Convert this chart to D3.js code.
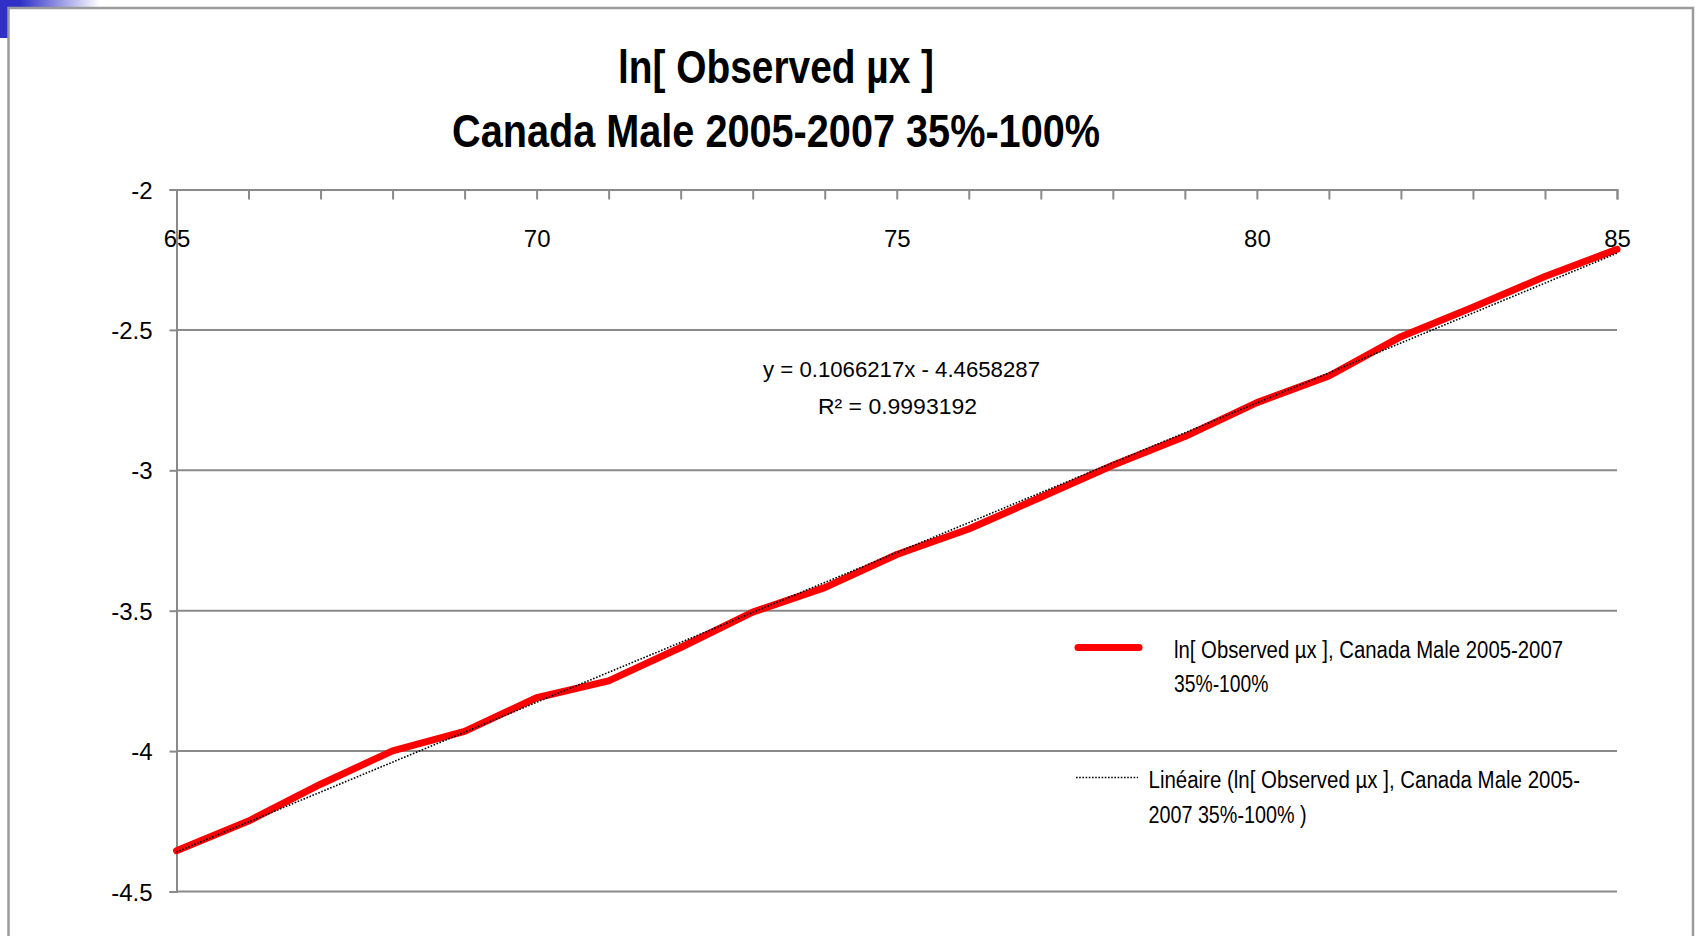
<!DOCTYPE html>
<html><head><meta charset="utf-8">
<script src="https://cdn.jsdelivr.net/npm/d3@7"></script>
<style>
html,body{margin:0;padding:0;background:#fff;overflow:hidden}
svg{display:block}
text{font-family:"Liberation Sans Narrow","Liberation Sans",Arial,sans-serif;fill:#000}
</style></head><body>
<svg id="chart" width="1699" height="936"></svg>
<script>
// Ages (x categories) and the observed log mortality rates
const ages = [65,66,67,68,69,70,71,72,73,74,75,76,77,78,79,80,81,82,83,84,85];
const lnObservedMu = [-4.355,-4.249,-4.118,-3.999,-3.930,-3.810,-3.750,-3.631,-3.505,-3.418,
                      -3.300,-3.209,-3.096,-2.982,-2.880,-2.759,-2.664,-2.524,-2.419,-2.310,-2.213];
// Axis tick labels
const xTickLabels = [65,70,75,80,85];
const yTickValues = [-2,-2.5,-3,-3.5,-4,-4.5];
// Linear trend (x is the point index 1..n)
const trendSlope = 0.1066217;
const trendIntercept = -4.4658287;
const trendR2 = 0.9993192;
// Texts
const titleLines = ["ln[ Observed µx ]", "Canada Male 2005-2007 35%-100%"];
const seriesLegend = ["ln[ Observed µx ], Canada Male 2005-2007", "35%-100%"];
const trendLegend = ["Linéaire (ln[ Observed µx ], Canada Male 2005-", "2007 35%-100% )"];

const svg = d3.select("#chart");
const grey = "#8a8a8a";

// Window frame and corner accent
const grad = svg.append("defs").append("linearGradient").attr("id","accent")
  .attr("x1","0").attr("x2","1").attr("y1","0").attr("y2","0");
grad.append("stop").attr("offset","0.2").attr("stop-color","#3030c8");
grad.append("stop").attr("offset","1").attr("stop-color","#ffffff");
svg.append("rect").attr("x",0).attr("y",0).attr("width",100).attr("height",8).attr("fill","url(#accent)");
svg.append("rect").attr("x",0).attr("y",0).attr("width",8).attr("height",38).attr("fill","#3030c8");
svg.append("rect").attr("x",8.5).attr("y",8).attr("width",1684.5).attr("height",960)
  .attr("fill","none").attr("stroke","#9a9a9a").attr("stroke-width",2.5);

// Scales
const x = d3.scaleLinear().domain([65,85]).range([176.5,1617]);
const y = d3.scaleLinear().domain([-4.5,-2]).range([891.5,189.5]);

// Title
const titleWidths = [316, 648];
const titleBase = [83, 147];
titleLines.forEach((t,i) => {
  svg.append("text").attr("x",776).attr("y",titleBase[i]).attr("text-anchor","middle")
    .attr("font-size",46).attr("font-weight","bold")
    .attr("textLength",titleWidths[i]).attr("lengthAdjust","spacingAndGlyphs").text(t);
});

// Horizontal gridlines
svg.append("g").selectAll("line").data(yTickValues.filter(v => v !== -2)).join("line")
  .attr("x1",x(65)).attr("x2",x(85)).attr("y1",d => y(d)).attr("y2",d => y(d))
  .attr("stroke",grey).attr("stroke-width",2);

// Y axis
const yAxis = svg.append("g").attr("transform",`translate(${x(65)},0)`)
  .call(d3.axisLeft(y).tickValues(yTickValues).tickSize(7).tickPadding(17).tickFormat(d => String(d)));
yAxis.select(".domain").attr("stroke",grey).attr("stroke-width",2);
yAxis.selectAll(".tick line").attr("stroke",grey).attr("stroke-width",2);
yAxis.selectAll(".tick text").attr("font-size",24).attr("dy","0.36em")
  .attr("font-family",'"Liberation Sans Narrow","Liberation Sans",Arial,sans-serif');

// X axis along the top (crosses at -2) with a tick at every age
const xAxis = svg.append("g").attr("transform",`translate(0,${y(-2)})`)
  .call(d3.axisBottom(x).tickValues(ages).tickSize(10).tickSizeOuter(10)
    .tickFormat(d => xTickLabels.includes(d) ? String(d) : ""));
xAxis.select(".domain").attr("stroke",grey).attr("stroke-width",2);
xAxis.selectAll(".tick line").attr("stroke",grey).attr("stroke-width",2);
xAxis.selectAll(".tick text").attr("font-size",24).attr("y",57).attr("dy",0)
  .attr("font-family",'"Liberation Sans Narrow","Liberation Sans",Arial,sans-serif');

// Observed series
const line = d3.line().x(d => x(d.age)).y(d => y(d.v));
const observed = ages.map((a,i) => ({age:a, v:lnObservedMu[i]}));
svg.append("path").datum(observed).attr("d",line).attr("fill","none")
  .attr("stroke","#ff0000").attr("stroke-width",7).attr("stroke-linejoin","round").attr("stroke-linecap","round");

// Linear trendline from the fitted equation
const trend = ages.map((a,i) => ({age:a, v:trendSlope*(i+1)+trendIntercept}));
svg.append("path").datum(trend).attr("d",line).attr("fill","none")
  .attr("stroke","#000").attr("stroke-width",1.6).attr("stroke-dasharray","1.6 1.6");

// Equation label
svg.append("text").attr("x",901.5).attr("y",377).attr("text-anchor","middle").attr("font-size",22)
  .attr("textLength",277).attr("lengthAdjust","spacingAndGlyphs")
  .text(`y = ${trendSlope}x - ${Math.abs(trendIntercept)}`);
svg.append("text").attr("x",897.5).attr("y",414).attr("text-anchor","middle").attr("font-size",22)
  .attr("textLength",159).attr("lengthAdjust","spacingAndGlyphs")
  .text(`R² = ${trendR2}`);

// Legend
const lg = svg.append("g");
lg.append("line").attr("x1",1078).attr("x2",1139).attr("y1",647.5).attr("y2",647.5)
  .attr("stroke","#ff0000").attr("stroke-width",7).attr("stroke-linecap","round");
const s1w = [389, 94.5];
seriesLegend.forEach((t,i) => lg.append("text").attr("x",1174).attr("y",658+i*34).attr("font-size",23)
  .attr("textLength",s1w[i]).attr("lengthAdjust","spacingAndGlyphs").text(t));
lg.append("line").attr("x1",1076).attr("x2",1138).attr("y1",777.5).attr("y2",777.5)
  .attr("stroke","#000").attr("stroke-width",1.6).attr("stroke-dasharray","1.6 1.6");
const s2w = [431.5, 158];
trendLegend.forEach((t,i) => lg.append("text").attr("x",1148.5).attr("y",788+i*35).attr("font-size",23)
  .attr("textLength",s2w[i]).attr("lengthAdjust","spacingAndGlyphs").text(t));
</script>
</body></html>
